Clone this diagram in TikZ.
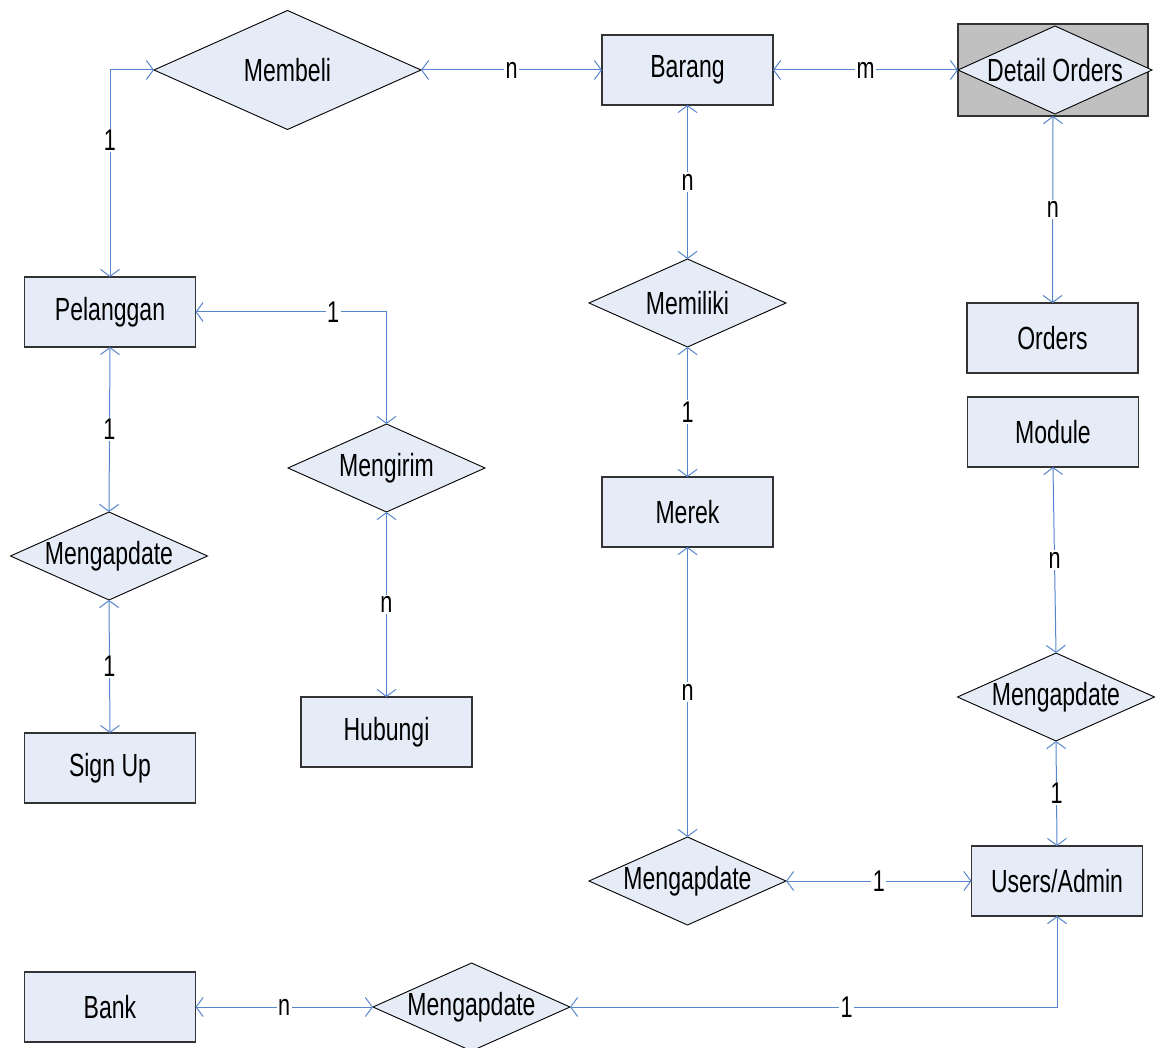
\documentclass[tikz,border=0pt]{standalone}
\usepackage{fontspec}
\setmainfont[FakeStretch=0.72]{Liberation Sans}
\usetikzlibrary{shapes.geometric,arrows.meta}
\definecolor{entfill}{RGB}{230,236,247}
\definecolor{linkblue}{RGB}{88,134,204}
\definecolor{weakgray}{RGB}{192,192,192}
\begin{document}
\begin{tikzpicture}[x=1pt,y=-1pt,
  entity/.style={rectangle, draw=black!80, line width=1.1pt, fill=entfill,
    minimum width=171pt, minimum height=70pt, inner sep=0pt, outer sep=0pt,
    font=\fontsize{32}{34}\selectfont},
  relation/.style={diamond, shape aspect=2.24, draw=black, line width=0.9pt, fill=entfill,
    minimum width=197pt, minimum height=88pt, inner sep=0pt, outer sep=0pt,
    font=\fontsize{32}{34}\selectfont},
  link/.style={draw=linkblue, line width=1pt,
    {Straight Barb[length=7pt,width=19pt]}-{Straight Barb[length=7pt,width=19pt]}},
  card/.style={fill=white, inner sep=1.5pt, font=\fontsize{30}{32}\selectfont}
]
\useasboundingbox (0,0) rectangle (1159,1048);

% entities
\node[entity] (barang)    at (687.5,70)  {Barang};
\node[entity] (pelanggan) at (110,312)   {Pelanggan};
\node[entity] (orders)    at (1052.5,338) {Orders};
\node[entity] (module)    at (1053,432)  {Module};
\node[entity] (merek)     at (687.5,512) {Merek};
\node[entity] (hubungi)   at (386.5,732) {Hubungi};
\node[entity] (signup)    at (110,768)   {Sign Up};
\node[entity] (users)     at (1057,881)  {Users/Admin};
\node[entity] (bank)      at (110,1007)  {Bank};

% associative entity: relation inside a shaded box
\node[entity, fill=weakgray, minimum width=190pt, minimum height=92pt] (detailbox) at (1053,70) {};
\node[relation, minimum width=194pt, minimum height=88pt] (detail) at (1055,70) {Detail Orders};

% relationships
\node[relation, minimum width=267pt, minimum height=119pt] (membeli) at (287.5,70) {Membeli};
\node[relation] (memiliki) at (687.5,303)  {Memiliki};
\node[relation] (mengirim) at (386.5,468)  {Mengirim};
\node[relation] (updsign)  at (109,556)    {Mengapdate};
\node[relation] (updmod)   at (1056,697)   {Mengapdate};
\node[relation] (updmerek) at (687.5,881)  {Mengapdate};
\node[relation] (updbank)  at (471.5,1007) {Mengapdate};

% connectors with cardinalities
\draw[link] (pelanggan.north) |- node[card, pos=0.33] {1} (membeli.west);
\draw[link] (membeli.east) -- node[card] {n} (barang.west);
\draw[link] (barang.east) -- node[card] {m} (detail.west);
\draw[link] (barang.south) -- node[card] {n} (memiliki.north);
\draw[link] (memiliki.south) -- node[card] {1} (merek.north);
\draw[link] (detailbox.south) -- node[card] {n} (orders.north);
\draw[link] (pelanggan.east) -| node[card, pos=0.36] {1} (mengirim.north);
\draw[link] (mengirim.south) -- node[card] {n} (hubungi.north);
\draw[link] (pelanggan.south) -- node[card] {1} (updsign.north);
\draw[link] (updsign.south) -- node[card] {1} (signup.north);
\draw[link] (merek.south) -- node[card] {n} (updmerek.north);
\draw[link] (module.south) -- node[card] {n} (updmod.north);
\draw[link] (updmod.south) -- node[card] {1} (users.north);
\draw[link] (updmerek.east) -- node[card] {1} (users.west);
\draw[link] (users.south) |- node[card, pos=0.716] {1} (updbank.east);
\draw[link] (updbank.west) -- node[card] {n} (bank.east);
\end{tikzpicture}
\end{document}
